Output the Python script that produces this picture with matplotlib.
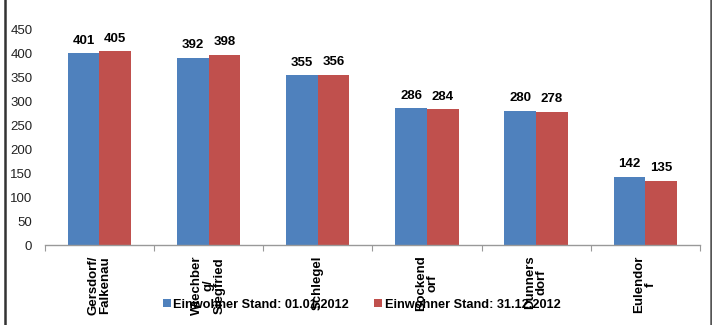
import matplotlib.pyplot as plt
import matplotlib
from matplotlib.lines import Line2D
import numpy as np

matplotlib.rcParams.update({
    "font.family": ["Liberation Sans", "DejaVu Sans"], "font.size": 9,
})

orte = ["Gersdorf/\nFalkenau", "Wiechber\ng/\nSiegfried", "Schlegel",
        "Bockend\norf", "Dunners\ndorf", "Eulendor\nf"]
stand_jan = [401, 392, 355, 286, 280, 142]
stand_dez = [405, 398, 356, 284, 278, 135]
serien = ["Einwohner Stand: 01.01.2012", "Einwohner Stand: 31.12.2012"]

blau = "#4F81BD"
rot = "#C0504D"

fig = plt.figure(figsize=(7.12, 3.25), dpi=100)
ax = fig.add_axes([0.063, 0.246, 0.92, 0.662])

x = np.arange(len(orte))
w = 0.29
b1 = ax.bar(x - w / 2, stand_jan, w, color=blau, label=serien[0])
b2 = ax.bar(x + w / 2, stand_dez, w, color=rot, label=serien[1])

for bars, vals in ((b1, stand_jan), (b2, stand_dez)):
    for r, v in zip(bars, vals):
        ax.text(r.get_x() + r.get_width() / 2, v + 14, str(v),
                ha="center", va="bottom", fontsize=9.5, fontweight="bold")

ax.set_xlim(-0.5, len(orte) - 0.5)
ax.set_ylim(0, 450)
ax.set_yticks(range(0, 451, 50))
ax.tick_params(axis="y", length=0, labelsize=9.5, pad=9, labelcolor="#222222")

# category boundaries get the tick marks, names sit in between
ax.set_xticks(np.arange(-0.5, len(orte)), minor=False)
ax.set_xticklabels([])
ax.tick_params(axis="x", length=4, color="#999999", width=0.8)
for xi, name in zip(x, orte):
    ax.text(xi, -22, name, rotation=90, ha="center", va="top",
            multialignment="center", fontsize=9.5, fontweight="bold",
            linespacing=0.95, zorder=5, clip_on=False)

for s in ("top", "right", "left"):
    ax.spines[s].set_visible(False)
ax.spines["bottom"].set_color("#999999")
ax.spines["bottom"].set_linewidth(1)

leg = fig.legend(loc="center", bbox_to_anchor=(0.508, 0.062), ncol=2,
                 frameon=False, handlelength=0.6,
                 handleheight=0.6, handletextpad=0.2, columnspacing=2.0,
                 prop={"weight": "bold", "size": 9.2})

# outer frame
fig.add_artist(Line2D([0.007, 0.007], [0, 1], color="#333333", lw=1.8))
fig.add_artist(Line2D([0.998, 0.998], [0, 1], color="#555555", lw=1.8))

fig.savefig("out.png", dpi=100)
